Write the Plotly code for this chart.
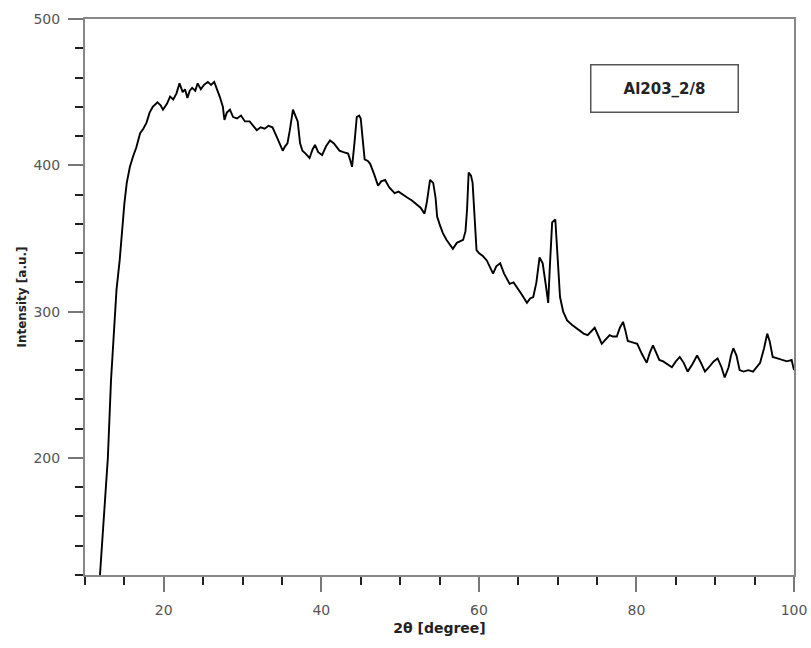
import plotly.graph_objects as go

two_theta = [11.9, 12.4, 12.9, 13.3, 13.7, 14.0, 14.4, 14.7, 15.0, 15.3, 15.7, 16.1, 16.5, 17.0, 17.4, 17.8,
             18.2, 18.6, 19.2, 19.6, 19.9, 20.4, 20.8, 21.2, 21.6, 22.0, 22.4, 22.7, 23.0, 23.3, 23.6, 24.0,
             24.3, 24.7, 25.1, 25.6, 26.0, 26.4, 26.7, 27.1, 27.5, 27.7, 28.0, 28.4, 28.8, 29.3, 29.8, 30.3,
             30.9, 31.4, 31.8, 32.3, 32.8, 33.3, 33.8, 34.3, 34.8, 35.1, 35.4, 35.7, 36.0, 36.4, 36.7, 37.0,
             37.3, 37.6, 38.0, 38.5, 38.9, 39.2, 39.6, 40.1, 40.6, 41.1, 41.6, 42.0, 42.3, 42.8, 43.4, 43.7,
             43.9, 44.2, 44.5, 44.8, 45.0, 45.3, 45.5, 45.9, 46.2, 46.7, 47.2, 47.6, 48.1, 48.6, 49.3, 49.8,
             50.3, 50.9, 51.5, 52.1, 52.6, 53.1, 53.4, 53.8, 54.2, 54.5, 54.7, 55.0, 55.4, 55.9, 56.3, 56.7,
             57.2, 57.6, 58.0, 58.3, 58.5, 58.7, 59.0, 59.2, 59.5, 59.7, 60.0, 60.5, 61.0, 61.4, 61.8, 62.2,
             62.7, 63.2, 63.9, 64.4, 64.8, 65.4, 66.1, 66.5, 66.9, 67.3, 67.7, 68.1, 68.5, 68.8, 69.0, 69.3,
             69.7, 70.0, 70.3, 70.7, 71.2, 71.8, 72.3, 72.8, 73.3, 73.8, 74.3, 74.7, 75.2, 75.6, 76.1, 76.6,
             77.0, 77.5, 77.9, 78.3, 78.6, 78.9, 79.5, 80.1, 80.7, 81.3, 81.7, 82.1, 82.5, 82.9, 83.4, 84.0,
             84.5, 85.0, 85.5, 86.0, 86.5, 87.1, 87.7, 88.2, 88.7, 89.2, 89.8, 90.3, 90.8, 91.2, 91.7, 92.0,
             92.3, 92.7, 93.1, 93.6, 94.2, 94.8, 95.3, 95.7, 96.2, 96.6, 96.9, 97.3, 97.9, 98.6, 99.1, 99.7,
             100.0]

intensity = [120, 160, 200, 253, 290, 315, 335, 355, 374, 388, 399, 406, 412, 422, 425, 429,
             436, 440, 443, 441, 438, 442, 447, 445, 449, 456, 450, 452, 446, 451, 453, 451,
             456, 452, 455, 457, 455, 457, 453, 447, 440, 431, 436, 438, 433, 432, 434, 430,
             430, 427, 424, 426, 425, 427, 426, 420, 414, 410, 413, 415, 424, 438, 434, 430,
             415, 410, 408, 405, 411, 414, 409, 407, 413, 417, 415, 412, 410, 409, 408, 403,
             399, 415, 433, 434, 432, 415, 404, 403, 401, 394, 386, 389, 390, 385, 381, 382,
             380, 378, 376, 373, 371, 367, 375, 390, 388, 378, 365, 360, 354, 349, 346, 343,
             347, 348, 349, 355, 370, 395, 393, 388, 360, 342, 340, 338, 335, 330, 326, 331,
             333, 326, 319, 320, 317, 312, 306, 309, 310, 320, 337, 333, 318, 306, 330, 361,
             363, 335, 310, 300, 294, 291, 289, 287, 285, 284, 287, 289, 283, 278, 281, 284,
             283, 283, 289, 293, 287, 280, 279, 278, 271, 265, 272, 277, 272, 267, 266, 264,
             262, 266, 269, 265, 259, 264, 270, 265, 259, 262, 266, 268, 262, 255, 262, 270,
             275, 270, 260, 259, 260, 259, 262, 265, 275, 285, 280, 269, 268, 267, 266, 267,
             260]

sample_label = "Al203_2/8"
x_title = "2θ [degree]"
y_title = "Intensity [a.u.]"

FONT = "DejaVu Sans"

fig = go.Figure()
fig.add_trace(go.Scatter(x=two_theta, y=intensity, mode="lines",
                         line=dict(color="black", width=1.9), showlegend=False,
                         hoverinfo="skip", cliponaxis=False))

fig.update_layout(
    width=811, height=648,
    margin=dict(l=85, r=17, t=19, b=73),
    paper_bgcolor="white", plot_bgcolor="white",
    font=dict(family=FONT, color="#444"),
    annotations=[dict(
        x=83.6, y=452.8, xref="x", yref="y", text="<b>" + sample_label + "</b>",
        showarrow=False, font=dict(family=FONT, size=15, color="#222"),
        bordercolor="#555", borderwidth=1.5, borderpad=4, width=138, height=38,
        bgcolor="white")],
)

fig.update_xaxes(
    range=[10, 100], tick0=0, dtick=20, ticks="outside", ticklen=15, tickwidth=1.5,
    tickcolor="#777", showline=True, linecolor="#888", linewidth=2, mirror=True,
    showgrid=False, zeroline=False, ticklabelstandoff=6, automargin=False,
    tickfont=dict(family=FONT, size=14, color="#555"),
    minor=dict(dtick=5, tick0=0, ticks="outside", ticklen=8, tickwidth=1.5, tickcolor="#222",
               showgrid=False),
    title=dict(text="<b>" + x_title + "</b>", font=dict(family=FONT, size=14, color="#222"),
               standoff=6),
)
fig.update_yaxes(
    range=[120, 500], tick0=0, dtick=100, ticks="outside", ticklen=15, tickwidth=1.5,
    tickcolor="#777", showline=True, linecolor="#888", linewidth=2, mirror=True,
    showgrid=False, zeroline=False, ticklabelstandoff=5, automargin=False,
    tickfont=dict(family=FONT, size=14, color="#555"),
    minor=dict(dtick=20, tick0=0, ticks="outside", ticklen=8, tickwidth=1.5, tickcolor="#222",
               showgrid=False),
    title=dict(text="<b>" + y_title + "</b>", font=dict(family=FONT, size=12, color="#222"),
               standoff=4),
)

fig.write_html("out.html")
